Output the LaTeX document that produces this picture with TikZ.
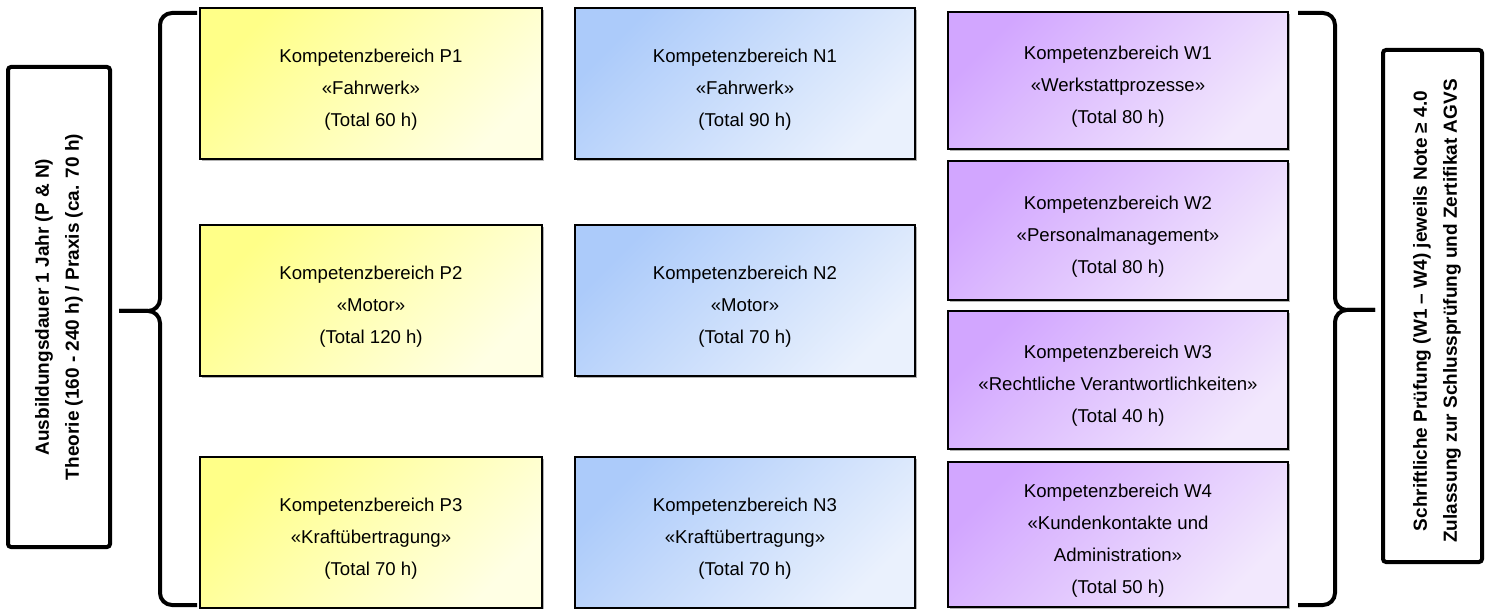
\documentclass[tikz,border=0pt]{standalone}
\usepackage{fontspec}
\setmainfont{Liberation Sans}
\usetikzlibrary{shadows}

\definecolor{yelA}{RGB}{255,255,136}
\definecolor{yelB}{RGB}{255,255,228}
\definecolor{bluA}{RGB}{172,203,250}
\definecolor{bluB}{RGB}{234,241,253}
\definecolor{vioA}{RGB}{210,166,255}
\definecolor{vioB}{RGB}{242,232,253}

\begin{document}
\begin{tikzpicture}[x=0.5pt, y=-0.5pt,
	kbox/.style={draw=black, line width=0.9pt, inner sep=0pt,
		drop shadow={shadow xshift=0.8pt, shadow yshift=-0.8pt, opacity=0.3, fill=black}},
	ktext/.style={align=center, inner sep=0pt, yshift=-3pt, font=\fontsize{9.3}{16}\selectfont},
	pbox/.style={kbox, top color=yelA, bottom color=yelB, shading angle=45,
		minimum width=171pt, minimum height=75.5pt},
	nbox/.style={kbox, top color=bluA, bottom color=bluB, shading angle=45,
		minimum width=170pt, minimum height=75.5pt},
	wbox/.style={kbox, top color=vioA, bottom color=vioB, shading angle=45,
		minimum width=170pt},
	sidebox/.style={draw=black, line width=2pt, rounded corners=1.5pt, fill=white,
		rotate=90, align=center, inner sep=0pt, font=\bfseries\fontsize{9.5}{15}\selectfont},
	brace/.style={draw=black, line width=2pt, rounded corners=6pt}]

	\useasboundingbox (0, 0) rectangle (1490, 609);

	% P column
	\node[pbox, label={[ktext]center:{Kompetenzbereich P1\\«Fahrwerk»\\(Total 60 h)}}] (P1) at (371, 83.5) {};
	\node[pbox, label={[ktext]center:{Kompetenzbereich P2\\«Motor»\\(Total 120 h)}}] (P2) at (371, 300.5) {};
	\node[pbox, label={[ktext]center:{Kompetenzbereich P3\\«Kraftübertragung»\\(Total 70 h)}}] (P3) at (371, 532.5) {};

	% N column
	\node[nbox, label={[ktext]center:{Kompetenzbereich N1\\«Fahrwerk»\\(Total 90 h)}}] (N1) at (745, 83.5) {};
	\node[nbox, label={[ktext]center:{Kompetenzbereich N2\\«Motor»\\(Total 70 h)}}] (N2) at (745, 300.5) {};
	\node[nbox, label={[ktext]center:{Kompetenzbereich N3\\«Kraftübertragung»\\(Total 70 h)}}] (N3) at (745, 532.5) {};

	% W column
	\node[wbox, minimum height=68.5pt, label={[ktext]center:{Kompetenzbereich W1\\«Werkstattprozesse»\\(Total 80 h)}}] (W1) at (1118, 80.5) {};
	\node[wbox, minimum height=69.5pt, label={[ktext]center:{Kompetenzbereich W2\\«Personalmanagement»\\(Total 80 h)}}] (W2) at (1118, 230.5) {};
	\node[wbox, minimum height=69pt, label={[ktext]center:{Kompetenzbereich W3\\«Rechtliche Verantwortlichkeiten»\\(Total 40 h)}}] (W3) at (1118, 380) {};
	\node[wbox, minimum height=72.5pt, label={[ktext]center:{Kompetenzbereich W4\\«Kundenkontakte und\\Administration»\\(Total 50 h)}}] (W4) at (1118, 534.5) {};

	% side boxes
	\node[sidebox, minimum width=240pt, minimum height=51pt] (dauer) at (59, 307)
		{Ausbildungsdauer 1 Jahr (P \& N)\\Theorie (160 - 240 h) / Praxis (ca. 70 h)};
	\node[sidebox, minimum width=256pt, minimum height=49.5pt] (pruefung) at (1432.5, 306) {};
	\node[rotate=90, align=center, inner sep=0pt, font=\bfseries\fontsize{9.5}{15}\selectfont] (pruefungtext) at (1437, 311)
		{Schriftliche Prüfung (W1 – W4) jeweils Note ≥ 4.0\\Zulassung zur Schlussprüfung und Zertifikat AGVS};

	% braces
	\coordinate (lbT) at (197, 13);
	\coordinate (lbB) at (197, 605);
	\coordinate (lbM) at (160, 311);
	\coordinate (lbTip) at (119, 311);
	\coordinate (rbT) at (1298, 13);
	\coordinate (rbB) at (1298, 605);
	\coordinate (rbM) at (1335, 310);
	\coordinate (rbTip) at (1375, 310);

	\draw[brace] (lbT) -| (lbM) -- (lbTip);
	\draw[brace] (lbB) -| (lbM) -- (lbTip);
	\draw[brace] (rbT) -| (rbM) -- (rbTip);
	\draw[brace] (rbB) -| (rbM) -- (rbTip);
\end{tikzpicture}
\end{document}
